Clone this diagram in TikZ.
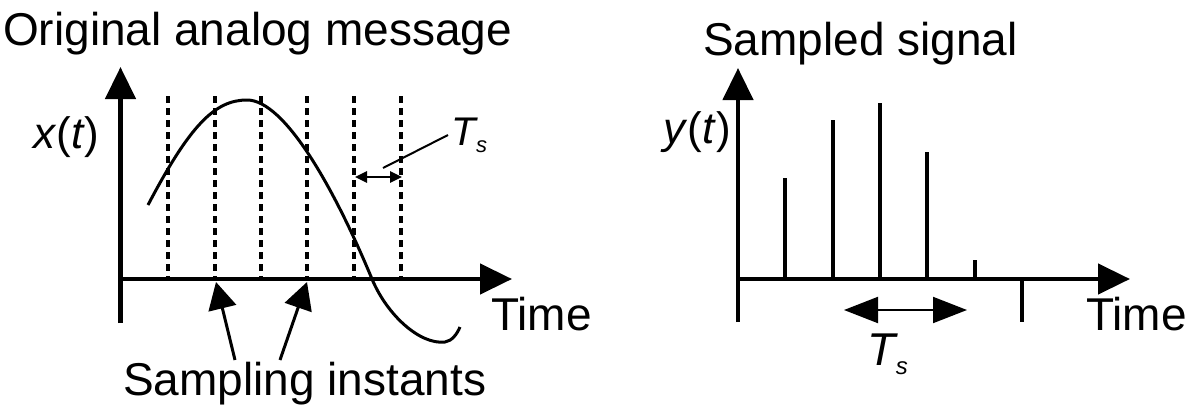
\documentclass[tikz,border=0pt]{standalone}
\usepackage{fontspec}
\setmainfont{Liberation Sans}
\usetikzlibrary{arrows.meta}
\newcommand\mylbl{\fontsize{46}{50}\selectfont}
\newcommand\myvar{\fontsize{44}{48}\selectfont}
\begin{document}
\begin{tikzpicture}[x=1pt,y=-1pt,
  axisline/.style={line width=4.5pt},
  axisarrow/.style={line width=4.5pt,-{Triangle[length=32pt,width=30pt]}},
  sampline/.style={line width=4pt,dash pattern=on 7pt off 5pt},
  stem/.style={line width=4.5pt},
  pointer/.style={line width=3pt,-{Triangle[length=27pt,width=28pt]}},
  smallboth/.style={line width=2.5pt,{Triangle[length=12pt,width=11pt]}-{Triangle[length=12pt,width=11pt]}},
  bigboth/.style={line width=2pt,{Triangle[length=34pt,width=26pt]}-{Triangle[length=34pt,width=26pt]}},
  lbl/.style={inner sep=0pt,font=\mylbl},
  var/.style={inner sep=0pt,font=\myvar}]
\useasboundingbox (0,0) rectangle (1189,407);
\fill[white] (0,0) rectangle (1189,407);

% ---------- left panel ----------
\node[lbl,anchor=base west] (t1) at (3,45) {Original analog message};
\coordinate (O1) at (120.5,279);
\coordinate (Y1b) at (120.5,323);
\coordinate (Y1t) at (120.5,67);
\coordinate (X1t) at (512,279);
\draw[axisline] (Y1b) -- (O1);
\draw[axisarrow] (O1) -- (Y1t);
\draw[axisarrow] (O1) -- (X1t);
\node[var,anchor=base west] (xt) at (33,148) {\textit{x}(\textit{t})};
\node[lbl,anchor=base west] (time1) at (491,330) {Time};

\foreach \i/\x in {1/168,2/215,3/261,4/307,5/354,6/401}{
  \coordinate (d\i t) at (\x,96);
  \coordinate (d\i b) at (\x,279);
  \draw[sampline] (d\i t) -- (d\i b);
}

\draw[line width=3pt]
  (148,205) .. controls (190,125) and (215,100) .. (247,100)
            .. controls (285,100) and (335,190) .. (372,279)
            .. controls (387,315) and (420,345) .. (445,342)
            .. controls (452,341) and (457,334) .. (460,327);

% Ts annotation
\node[inner sep=0pt,anchor=base west,font=\fontsize{40}{44}\selectfont] (ts1) at (451,145)
  {\textit{T\kern0.5pt\raisebox{-7pt}{\fontsize{22}{24}\selectfont s}}};
\coordinate (p1s) at (448,135);
\coordinate (p1e) at (383,168);
\draw[line width=2pt] (p1s) -- (p1e);
\coordinate (da) at (355,177);
\coordinate (db) at (402,177);
\draw[smallboth] (da) -- (db);

% sampling instants
\node[lbl,anchor=base west] (si) at (123,395) {Sampling instants};
\coordinate (a1s) at (235,360);
\coordinate (a1e) at (216,282);
\coordinate (a2s) at (280,360);
\coordinate (a2e) at (307,282);
\draw[pointer] (a1s) -- (a1e);
\draw[pointer] (a2s) -- (a2e);

% ---------- right panel ----------
\node[lbl,anchor=base west] (t2) at (703,55) {Sampled signal};
\coordinate (O2) at (738,279);
\coordinate (Y2b) at (738,322);
\coordinate (Y2t) at (738,68);
\coordinate (X2t) at (1130,279);
\draw[axisline] (Y2b) -- (O2);
\draw[axisarrow] (O2) -- (Y2t);
\draw[axisarrow] (O2) -- (X2t);
\node[var,anchor=base east] (yt) at (731,143) {\textit{y}(\textit{t})};
\node[lbl,anchor=base west] (time2) at (1086,330) {Time};

\foreach \i/\x/\h in {1/785/178,2/833/120,3/880/103,4/927/152,5/975/260}{
  \coordinate (s\i b) at (\x,279);
  \coordinate (s\i t) at (\x,\h);
  \draw[stem] (s\i b) -- (s\i t);
}
\coordinate (tkt) at (1022,279);
\coordinate (tkb) at (1022,322);
\draw[stem] (tkt) -- (tkb);

\coordinate (ra) at (844,310);
\coordinate (rb) at (967,310);
\draw[bigboth] (ra) -- (rb);
\node[inner sep=0pt,anchor=base west,font=\fontsize{46}{50}\selectfont] (ts2) at (867,365)
  {\textit{T\kern0.5pt\raisebox{-9pt}{\fontsize{24}{26}\selectfont s}}};
\end{tikzpicture}
\end{document}
